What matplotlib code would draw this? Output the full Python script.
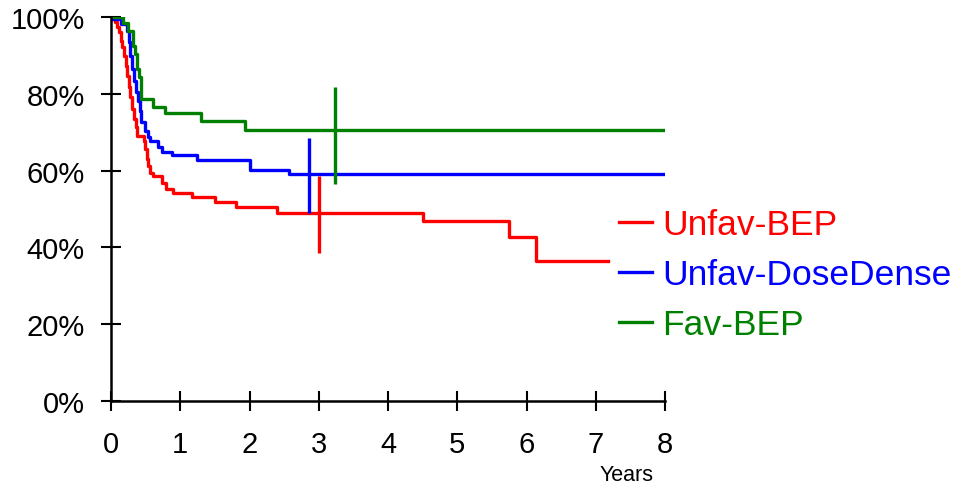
import matplotlib
matplotlib.use('Agg')
import matplotlib.pyplot as plt

plt.rcParams['font.family'] = ['Liberation Sans', 'DejaVu Sans']

# Kaplan-Meier step data (years, % surviving)
red_t = [0, 0.02, 0.058, 0.09, 0.116, 0.14, 0.16, 0.19, 0.21, 0.235, 0.26, 0.28, 0.31,
         0.33, 0.36, 0.38, 0.47, 0.49, 0.52, 0.54, 0.56, 0.61, 0.73, 0.80, 0.90, 1.17,
         1.50, 1.80, 2.40, 4.50, 5.75, 6.13, 7.18]
red_s = [100, 99.5, 98.6, 97.3, 96.0, 93.8, 92.1, 89.9, 87.3, 84.7, 81.7, 79.1, 76.0,
         73.4, 71.3, 69.1, 67.8, 65.6, 63.0, 61.3, 59.5, 58.7, 56.9, 55.2, 54.1, 53.0,
         51.7, 50.4, 48.9, 47.0, 42.8, 36.5, 36.5]

blue_t = [0, 0.02, 0.15, 0.23, 0.26, 0.28, 0.31, 0.33, 0.36, 0.39, 0.42, 0.44, 0.49,
          0.54, 0.56, 0.68, 0.73, 0.88, 1.24, 2.00, 2.57, 8]
blue_s = [100, 99.5, 98.2, 96.4, 93.4, 89.9, 86.5, 83.4, 80.4, 78.2, 75.6, 72.6, 70.4,
          68.7, 67.8, 66.1, 64.9, 64.1, 62.8, 60.2, 59.0, 59.0]

green_t = [0, 0.17, 0.25, 0.32, 0.35, 0.38, 0.41, 0.43, 0.60, 0.78, 1.30, 1.93, 8]
green_s = [100, 98.4, 96.4, 92.5, 90.4, 86.5, 84.3, 78.6, 76.6, 74.9, 72.8, 70.7, 70.7]

# confidence bars: (time, low, high)
red_ci = (3.00, 38.5, 58.7)
blue_ci = (2.86, 48.9, 68.5)
green_ci = (3.24, 56.5, 81.8)

labels = ['Unfav-BEP', 'Unfav-DoseDense', 'Fav-BEP']
colors = ['#ff0000', '#0000ff', '#008000']

fig = plt.figure(figsize=(9.64, 4.85), dpi=100)
ax = fig.add_axes([111/964, 1 - 402/485, (665 - 111)/964, (402 - 18)/485])

series = [(red_t, red_s, red_ci), (blue_t, blue_s, blue_ci), (green_t, green_s, green_ci)]
for (t, s, ci), lab, col in zip(series, labels, colors):
    ax.step(t, s, where='post', color=col, lw=2.4, label=lab)
    ax.vlines(ci[0], ci[1], ci[2], color=col, lw=2.4)

ax.set_xlim(0, 8)
ax.set_ylim(0, 100)
ax.set_xticks(range(0, 9))
ax.set_yticks(range(0, 101, 20))
ax.set_yticklabels(['%d%%' % v for v in range(0, 101, 20)])
ax.tick_params(direction='inout', length=14, width=1.5, labelsize=21)
ax.tick_params(axis='y', pad=12)
ax.tick_params(axis='x', pad=14)
for side in ['top', 'right']:
    ax.spines[side].set_visible(False)
for side in ['left', 'bottom']:
    ax.spines[side].set_linewidth(1.8)

fig.text(627/964, 1 - 476/485, 'Years', fontsize=15.5, ha='center', va='center')

leg = fig.legend(loc='center left', bbox_to_anchor=(619/964, 1 - 276/485),
                 frameon=False, fontsize=25.5, handlelength=0.93, handletextpad=0.28,
                 labelspacing=0.48, borderpad=0, borderaxespad=0, labelcolor='linecolor')
for h in leg.get_lines():
    h.set_linewidth(2.4)

fig.savefig('out.png', dpi=100)
